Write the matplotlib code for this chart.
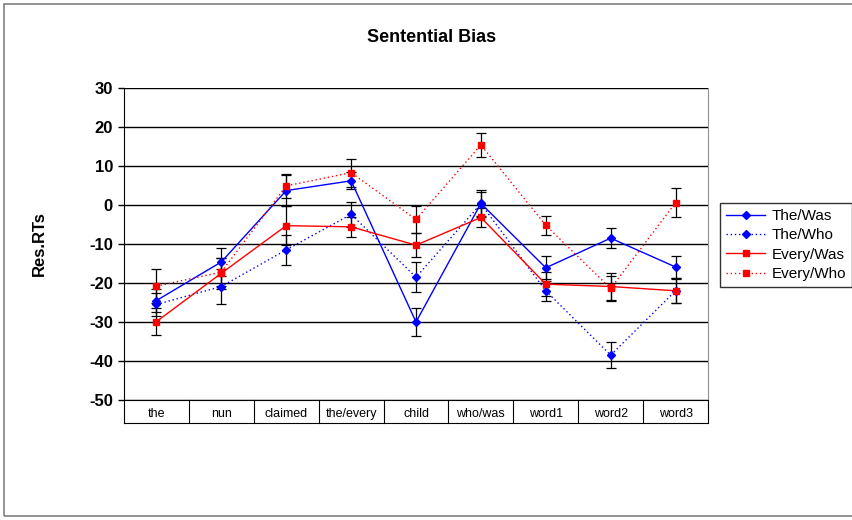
import numpy as np
import matplotlib
matplotlib.use("Agg")
import matplotlib.pyplot as plt
from matplotlib.patches import Rectangle

plt.rcParams['font.family'] = ['Liberation Sans', 'DejaVu Sans']
plt.rcParams['axes.unicode_minus'] = False

words = ["the", "nun", "claimed", "the/every", "child", "who/was", "word1", "word2", "word3"]

the_was = [-24.5, -14.6, 3.7, 6.2, -30.0, 0.4, -16.1, -8.5, -15.9]
the_was_err = [3.0, 3.5, 4.0, 2.2, 3.5, 3.5, 3.0, 2.6, 2.8]

the_who = [-25.5, -20.9, -11.5, -2.4, -18.5, 0.3, -22.0, -38.5, -22.0]
the_who_err = [3.0, 4.5, 3.8, 3.2, 3.9, 3.0, 2.6, 3.4, 3.0]

every_was = [-29.9, -17.5, -5.3, -5.6, -10.3, -3.2, -20.3, -20.9, -22.0]
every_was_err = [3.5, 4.0, 5.0, 2.6, 3.0, 2.4, 3.0, 3.5, 3.2]

every_who = [-20.8, -17.2, 4.9, 8.3, -3.7, 15.4, -5.2, -21.4, 0.6]
every_who_err = [4.4, 3.5, 3.1, 3.6, 3.4, 3.0, 2.4, 3.2, 3.7]

series = [
    ("The/Was", the_was, the_was_err, "#0000ff", "-", "D"),
    ("The/Who", the_who, the_who_err, "#0000ff", (0, (1, 2)), "D"),
    ("Every/Was", every_was, every_was_err, "#ff0000", "-", "s"),
    ("Every/Who", every_who, every_who_err, "#ff0000", (0, (1, 2)), "s"),
]

fig = plt.figure(figsize=(8.52, 5.2), dpi=100)
fig.patches.append(Rectangle((4 / 852, 4 / 520), 1.2, 512 / 520, transform=fig.transFigure,
                             fill=False, edgecolor="#808080", linewidth=1.2))

ax = fig.add_axes([124 / 852, 120 / 520, 584 / 852, 312 / 520])
x = np.arange(len(words))

handles = []
for name, vals, err, color, ls, mk in series:
    ax.errorbar(x, vals, yerr=err, fmt="none", ecolor="black", elinewidth=0.9,
                capsize=3.5, capthick=0.9, zorder=2)
    line, = ax.plot(x, vals, color=color, linestyle=ls, linewidth=1.0,
                    marker=mk, markersize=4 if mk == "D" else 4.5,
                    markerfacecolor=color, markeredgecolor=color, label=name, zorder=3)
    handles.append(line)

ax.set_xlim(-0.5, len(words) - 0.5)
ax.set_ylim(-50, 30)
ax.set_yticks(np.arange(-50, 31, 10))
ax.yaxis.grid(True, color="black", linewidth=1.0)
ax.set_axisbelow(True)
ax.tick_params(axis="y", labelsize=12, length=4, width=1, direction="out", pad=4)
for lab in ax.get_yticklabels():
    lab.set_fontweight("bold")

ax.set_xticks(x)
ax.set_xticklabels(words, fontsize=9)
ax.tick_params(axis="x", length=0, pad=6)

ax.spines["top"].set_visible(False)
ax.spines["right"].set_color("#909090")
ax.spines["left"].set_color("black")
ax.spines["bottom"].set_color("black")

# category table under the axis
trans = ax.get_xaxis_transform()
depth = -23 / 312
for b in np.arange(-0.5, len(words), 1.0):
    ax.plot([b, b], [0, depth], transform=trans, color="black", linewidth=0.8, clip_on=False)
ax.plot([-0.5, len(words) - 0.5], [depth, depth], transform=trans, color="black",
        linewidth=0.8, clip_on=False)

ax.set_ylabel("Res.RTs", fontsize=12, fontweight="bold", labelpad=30)
fig.text(432 / 852, 1 - 37 / 520, "Sentential Bias", ha="center", va="center",
         fontsize=13, fontweight="bold")

leg = fig.legend(handles=handles, loc="center left", bbox_to_anchor=(712 / 852, 1 - 245 / 520),
                 fontsize=11, frameon=True, fancybox=False, edgecolor="black",
                 handlelength=2.6, borderpad=0.4, labelspacing=0.35, handletextpad=0.4)
leg.get_frame().set_linewidth(1.0)

fig.savefig("out.png", dpi=100)
